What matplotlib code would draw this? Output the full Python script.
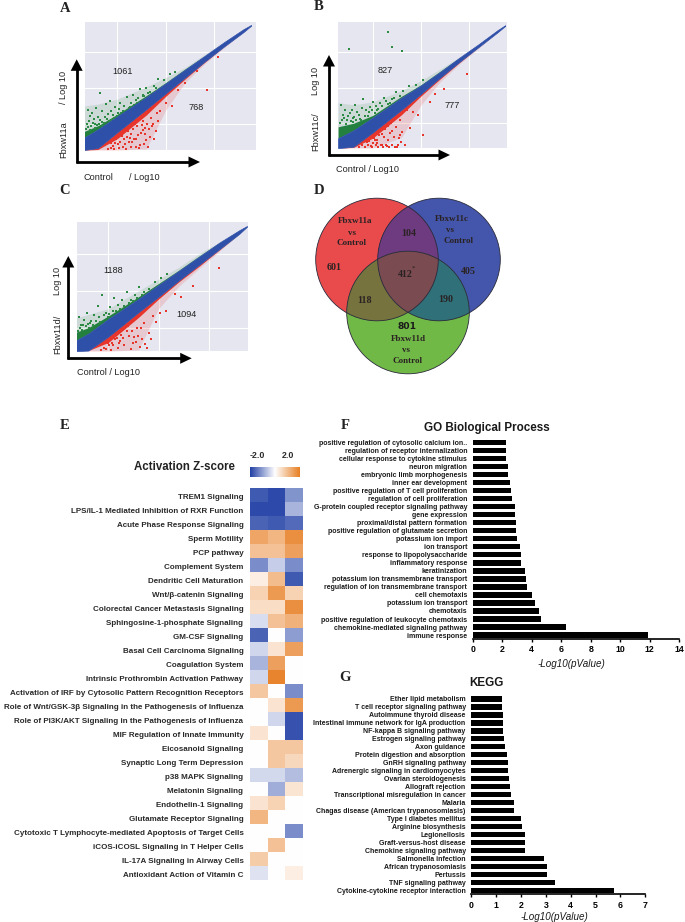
# MULTI PANEL FIGURE: SCATTERS, VENN, HEATMAP AND ENRICHMENT BARS
import numpy as np
import matplotlib
matplotlib.use("Agg")
import matplotlib.pyplot as plt
from matplotlib.colors import LinearSegmentedColormap
from matplotlib.patches import Circle, Polygon

SANS = "Liberation Sans"
SERIF = "Liberation Serif"
W, H = 685, 922

# SCATTER OUTLINES (log10 expression)
edge_x = [1.4, 3, 5, 8, 10, 12, 14, 16, 18, 18.8]

a_up = [3.0, 4.3, 6.1, 8.8, 10.7, 12.6, 14.5, 16.4, 18.2, 18.8]
a_lo = [1.4, 1.7, 3.9, 7.1, 9.3, 11.5, 13.7, 15.8, 17.8, 18.7]
a_green_dense = [3.9, 4.8, 6.4, 9.0, 10.8, 12.7, 14.5, 16.4, 18.2, 18.8]
a_green_sparse = [7.5, 7.8, 8.5, 10.2, 11.5, 12.9, 14.7, 16.4, 18.2, 18.8]
a_red_dense = [1.4, 1.5, 3.0, 6.3, 8.9, 11.3, 13.6, 15.8, 17.8, 18.7]
a_red_sparse = [1.4, 1.4, 1.4, 1.6, 7.0, 10.8, 13.4, 15.6, 17.8, 18.7]

b_up = [2.9, 4.0, 5.8, 8.6, 10.3, 12.2, 14.2, 16.1, 18.1, 18.8]
b_lo = [1.5, 1.7, 3.7, 6.9, 9.1, 11.4, 13.6, 15.7, 17.8, 18.7]
b_green_dense = [4.5, 5.0, 6.1, 8.8, 10.4, 12.3, 14.2, 16.1, 18.1, 18.8]
b_green_sparse = [7.9, 7.6, 8.0, 9.6, 11.0, 12.6, 14.3, 16.1, 18.1, 18.8]
b_red_dense = [1.5, 1.6, 2.9, 6.2, 8.8, 11.2, 13.5, 15.7, 17.8, 18.7]
b_red_sparse = [1.5, 1.5, 1.5, 3.0, 7.5, 10.8, 13.3, 15.5, 17.8, 18.7]

c_up = [3.0, 4.2, 6.2, 8.9, 10.8, 12.7, 14.6, 16.5, 18.2, 18.8]
c_lo = [1.8, 1.9, 3.8, 7.1, 9.2, 11.4, 13.5, 15.6, 17.7, 18.7]
c_green_dense = [4.2, 5.0, 6.6, 9.2, 11.0, 12.8, 14.7, 16.5, 18.2, 18.8]
c_green_sparse = [6.2, 6.8, 7.6, 10.0, 11.6, 13.2, 15.0, 16.6, 18.2, 18.8]
c_red_dense = [1.8, 1.9, 3.0, 6.4, 8.9, 11.2, 13.3, 15.5, 17.7, 18.7]
c_red_sparse = [1.8, 1.8, 1.8, 2.0, 7.6, 10.6, 13.0, 15.3, 17.7, 18.7]

# LOOSE POINTS OUTSIDE THE DENSE PARTS
a_green_x = [2.0, 2.2, 2.1, 2.4, 2.6, 2.8, 3.0, 3.2, 3.4, 3.6, 3.8, 2.3, 2.7, 3.1, 3.5, 4.0, 4.2, 4.5, 4.8, 5.0, 5.3, 5.6, 6.0, 6.3, 6.6, 7.0, 7.3, 7.6, 8.0, 8.4, 8.8, 9.2, 9.8, 10.4, 11.0, 4.4, 4.9, 5.5, 6.1, 6.8, 7.8,
             1.8, 1.9, 2.0, 2.2, 2.5, 2.7, 2.9, 3.2, 3.4, 3.7, 3.9, 4.1, 4.3, 4.6, 4.7, 5.1, 5.2, 5.4, 5.7, 5.9, 6.2, 6.4, 6.7, 6.9, 7.1, 7.4, 7.7, 8.2, 8.6, 9.0]
a_green_y = [7.0, 6.2, 5.4, 6.6, 5.8, 7.2, 6.0, 9.3, 6.9, 5.2, 7.8, 4.8, 4.5, 5.0, 4.8, 6.4, 8.3, 5.6, 7.4, 6.2, 8.0, 6.9, 8.8, 7.4, 9.1, 8.0, 9.9, 9.0, 10.0, 9.5, 10.3, 11.3, 11.2, 12.0, 12.2, 5.6, 5.9, 6.3, 7.0, 7.6, 8.9,
             4.4, 5.0, 4.6, 4.2, 5.2, 5.1, 4.9, 5.6, 5.3, 6.0, 5.7, 5.5, 6.9, 6.3, 5.9, 6.6, 7.1, 6.5, 7.6, 6.9, 7.2, 8.0, 7.7, 8.4, 8.6, 8.2, 8.9, 9.4, 9.2, 10.0]
a_red_x = [4.3, 4.6, 4.9, 5.5, 5.8, 6.1, 6.4, 6.7, 7.0, 7.3, 7.6, 7.9, 8.2, 8.5, 8.8, 9.1, 9.4, 6.5, 6.9, 7.4, 7.8, 8.3, 5.9, 6.3, 6.8, 7.2, 7.7, 8.1, 10.0, 10.6, 11.3, 12.0, 14.3, 15.4, 13.2,
           4.0, 4.4, 4.8, 5.2, 5.3, 5.6, 6.0, 6.2, 6.6, 7.1, 7.5, 8.0, 8.4, 8.7, 9.0, 5.7, 6.4, 6.9, 7.3, 7.9, 8.6, 9.2, 4.7, 5.1]
a_red_y = [2.4, 2.0, 3.0, 3.4, 2.3, 4.1, 1.9, 3.0, 4.7, 2.1, 5.5, 3.6, 1.8, 5.9, 3.0, 6.6, 6.8, 2.6, 1.8, 3.8, 2.2, 4.4, 1.6, 3.1, 5.0, 1.7, 4.2, 5.1, 8.0, 7.6, 9.7, 10.7, 9.8, 14.4, 12.4,
           1.6, 1.7, 2.4, 1.7, 2.6, 1.9, 3.3, 2.5, 4.4, 3.5, 4.9, 2.8, 3.3, 5.1, 4.0, 2.9, 3.7, 2.9, 6.0, 4.5, 4.7, 5.4, 1.6, 2.2]

b_green_x = [1.7, 1.9, 2.1, 2.3, 2.6, 2.9, 3.2, 3.6, 4.0, 4.3, 4.7, 5.0, 5.4, 5.8, 6.2, 6.6, 7.0, 7.4, 7.8, 8.2, 8.8, 9.5, 10.2, 6.6, 2.5, 8.1, 7.0, 2.2, 3.0, 3.8, 4.5, 5.2,
             1.6, 1.8, 2.0, 2.4, 2.7, 3.1, 3.4, 3.7, 3.9, 4.2, 4.6, 4.9, 5.3, 5.6, 6.0, 6.4, 6.8, 7.2, 2.8, 3.3]
b_green_y = [7.6, 6.2, 6.9, 5.4, 6.5, 5.7, 7.6, 6.1, 8.4, 6.8, 7.3, 8.0, 6.9, 7.8, 8.6, 7.7, 8.4, 9.4, 8.9, 9.6, 10.2, 10.4, 11.1, 17.9, 15.4, 15.2, 15.8, 4.9, 5.2, 5.4, 6.0, 6.4,
             5.0, 5.4, 5.8, 6.0, 5.3, 5.9, 6.6, 5.6, 7.1, 6.0, 6.6, 6.9, 7.4, 7.0, 7.5, 8.1, 7.9, 8.6, 6.9, 5.5]
b_red_x = [4.4, 4.8, 5.1, 5.4, 5.7, 6.0, 6.3, 6.6, 6.9, 7.2, 7.5, 7.8, 8.1, 8.4, 8.9, 9.2, 9.7, 10.2, 11.0, 11.5, 12.4, 14.8, 5.5, 6.2, 6.8, 7.4, 7.9, 8.6, 5.0, 6.5,
           3.6, 3.9, 4.2, 4.5, 4.9, 5.3, 5.6, 5.9, 6.1, 6.4, 6.7, 7.0, 7.3, 7.6, 7.7, 7.0, 6.0, 5.2, 4.6, 6.6, 7.1, 7.8]
b_red_y = [2.4, 1.8, 2.9, 2.2, 3.4, 1.9, 4.2, 2.7, 5.0, 3.1, 1.7, 5.4, 3.8, 2.0, 4.4, 6.6, 6.2, 3.3, 8.0, 9.1, 9.8, 11.9, 2.6, 3.0, 3.7, 4.5, 2.4, 6.8, 2.2, 1.8,
           1.7, 1.9, 1.7, 1.9, 1.7, 1.9, 1.7, 1.9, 1.7, 1.9, 1.7, 1.9, 1.7, 1.9, 2.9, 3.9, 3.5, 2.7, 2.5, 4.6, 5.5, 3.3]

c_green_x = [2.1, 2.3, 2.6, 2.9, 3.2, 3.6, 4.0, 4.4, 4.8, 5.2, 5.6, 6.0, 6.4, 6.8, 7.2, 7.6, 8.0, 8.5, 9.0, 9.6, 10.2, 10.8, 3.5, 5.0, 2.4, 3.1, 4.2, 5.5, 6.6,
             2.2, 2.5, 2.8, 3.0, 3.3, 3.8, 4.1, 4.6, 5.1, 5.8, 6.2, 7.0, 7.4, 7.8, 8.3, 2.0]
c_green_y = [6.4, 5.4, 6.0, 7.0, 5.6, 6.7, 7.9, 9.5, 7.0, 7.8, 9.0, 8.1, 8.7, 9.9, 8.8, 9.4, 10.5, 9.9, 10.3, 11.2, 11.7, 12.3, 5.3, 6.4, 4.7, 5.0, 5.8, 7.3, 8.0,
             5.0, 5.3, 5.2, 5.5, 5.9, 5.9, 6.4, 6.7, 6.9, 7.3, 7.6, 8.3, 8.6, 9.0, 9.5, 4.6]
c_red_x = [4.6, 5.0, 5.3, 5.7, 6.0, 6.3, 6.6, 6.9, 7.2, 7.5, 7.8, 8.1, 8.5, 9.0, 9.4, 10.1, 10.7, 11.6, 12.2, 13.4, 16.0, 5.5, 6.2, 7.0, 7.7, 8.3, 9.7, 8.8,
           4.3, 4.8, 5.1, 5.4, 5.9, 6.1, 6.5, 6.8, 7.1, 7.4, 7.9, 8.2, 8.6, 9.2, 6.4, 7.3]
c_red_y = [2.3, 2.9, 2.0, 3.4, 2.2, 4.0, 2.6, 5.2, 2.1, 3.7, 4.9, 2.4, 5.7, 4.3, 6.6, 7.0, 7.3, 9.6, 9.1, 10.6, 13.1, 2.6, 3.2, 3.9, 3.0, 3.4, 5.8, 2.2,
           2.0, 2.1, 2.6, 2.9, 3.6, 2.9, 3.6, 4.5, 5.6, 2.9, 3.9, 5.0, 2.8, 3.5, 4.7, 4.6]

# HEATMAP
pathways = ["TREM1 Signaling", "LPS/IL-1 Mediated Inhibition of RXR Function", "Acute Phase Response Signaling",
            "Sperm Motility", "PCP pathway", "Complement System", "Dendritic Cell Maturation",
            "Wnt/β-catenin Signaling", "Colorectal Cancer Metastasis Signaling", "Sphingosine-1-phosphate Signaling",
            "GM-CSF Signaling", "Basal Cell Carcinoma Signaling", "Coagulation System",
            "Intrinsic Prothrombin Activation Pathway", "Activation of IRF by Cytosolic Pattern Recognition Receptors",
            "Role of Wnt/GSK-3β Signaling in the Pathogenesis of Influenza",
            "Role of PI3K/AKT Signaling in the Pathogenesis of Influenza", "MIF Regulation of Innate Immunity",
            "Eicosanoid Signaling", "Synaptic Long Term Depression", "p38 MAPK Signaling", "Melatonin Signaling",
            "Endothelin-1 Signaling", "Glutamate Receptor Signaling",
            "Cytotoxic T Lymphocyte-mediated Apoptosis of Target Cells", "iCOS-iCOSL Signaling in T Helper Cells",
            "IL-17A Signaling in Airway Cells", "Antioxidant Action of Vitamin C"]
z_col1 = [-2.0, -2.2, -1.9, 1.6, 1.1, -1.4, 0.3, 0.8, 0.6, -0.4, -1.9, -0.5, -0.9, -0.5, 1.0, 0, 0, 0.5, 0, 0, -0.45, 0, 0.5, 1.3, 0, 0, 0.9, -0.35]
z_col2 = [-2.2, -2.2, -2.0, 1.3, 1.1, -0.6, 1.2, 1.8, 0.6, 1.1, 0, 0.5, 1.7, 2.2, 0, 0.5, -0.5, 0, 1.0, 1.0, -0.45, -1.0, 0.8, 0, 0, 1.1, 0, 0]
z_col3 = [-1.3, -0.9, -1.8, 2.0, 1.7, -1.4, -2.0, 0.8, 2.0, 1.4, -1.2, 1.7, 0, 0, -1.4, 1.8, -2.1, -2.1, 1.0, 0.7, -0.8, 0.45, 0, 0, -1.4, 0, 0, 0.3]

# GO BARS
go_terms = ["positive regulation of cytosolic calcium ion..", "regulation of receptor internalization",
            "cellular response to cytokine stimulus", "neuron migration", "embryonic limb morphogenesis",
            "inner ear development", "positive regulation of T cell proliferation", "regulation of cell proliferation",
            "G-protein coupled receptor signaling pathway", "gene expression", "proximal/distal pattern formation",
            "positive regulation of glutamate secretion", "potassium ion import", "ion transport",
            "response to lipopolysaccharide", "inflammatory response", "keratinization",
            "potassium ion transmembrane transport", "regulation of ion transmembrane transport", "cell chemotaxis",
            "potassium ion transport", "chemotaxis", "positive regulation of leukocyte chemotaxis",
            "chemokine-mediated signaling pathway", "immune response"]
go_vals = [2.25, 2.25, 2.25, 2.4, 2.4, 2.55, 2.6, 2.65, 2.85, 2.9, 2.95, 2.95, 3.0, 3.2, 3.25, 3.3, 3.55, 3.6, 3.65, 4.05, 4.2, 4.5, 4.65, 6.35, 11.85]

# KEGG BARS
kegg_terms = ["Ether lipid metabolism", "T cell receptor signaling pathway", "Autoimmune thyroid disease",
              "Intestinal immune network for IgA production", "NF-kappa B signaling pathway", "Estrogen signaling pathway",
              "Axon guidance", "Protein digestion and absorption", "GnRH signaling pathway",
              "Adrenergic signaling in cardiomyocytes", "Ovarian steroidogenesis", "Allograft rejection",
              "Transcriptional misregulation in cancer", "Malaria", "Chagas disease (American trypanosomiasis)",
              "Type I diabetes mellitus", "Arginine biosynthesis", "Legionellosis", "Graft-versus-host disease",
              "Chemokine signaling pathway", "Salmonella infection", "African trypanosomiasis", "Pertussis",
              "TNF signaling pathway", "Cytokine-cytokine receptor interaction"]
kegg_vals = [1.22, 1.22, 1.28, 1.28, 1.28, 1.33, 1.36, 1.45, 1.48, 1.48, 1.5, 1.56, 1.58, 1.73, 1.73, 2.0, 2.05, 2.15, 2.15, 2.17, 2.93, 3.03, 3.05, 3.35, 5.73]

plt.rcParams['font.family'] = SANS
fig = plt.figure(figsize=(W / 100, H / 100), dpi=100)


# AXES FROM A PIXEL BOX
def pxaxes(x0, y0, x1, y1, **kw):
	return fig.add_axes([x0 / W, 1 - y1 / H, (x1 - x0) / W, (y1 - y0) / H], **kw)


# OVERLAY IN PIXELS FOR ANNOTATIONS
ov = fig.add_axes([0, 0, 1, 1], zorder=10)
ov.set_xlim(0, W)
ov.set_ylim(H, 0)
ov.axis('off')
ov.patch.set_alpha(0)


# DEFINING SCATTER FUNCTION
def scatterpanel(box, xlim, ylim, up, lo, gd, gs, rd, rs, gx, gy, rx, ry):
	ax = pxaxes(*box)
	ax.set_facecolor("#E6E6F0")
	ax.set_xlim(*xlim)
	ax.set_ylim(*ylim)
	for s in ax.spines.values():
		s.set_visible(False)
	ax.set_xticks([5, 10, 15])
	ax.set_yticks([5, 10, 15])
	ax.tick_params(length=0, labelbottom=False, labelleft=False)
	ax.grid(color="white", linewidth=0.8)
	ax.set_axisbelow(True)
	ax.fill_between(edge_x, up, gs, color="#2E8B45", alpha=0.14, lw=0, zorder=2)
	ax.fill_between(edge_x, rs, lo, color="#E8352B", alpha=0.16, lw=0, zorder=2)
	ax.fill_between(edge_x, up, gd, color="#23803F", lw=0, zorder=3)
	ax.fill_between(edge_x, rd, lo, color="#E8352B", lw=0, zorder=3)
	ax.scatter(gx, gy, s=0.6, marker='s', color="#2E8B45", lw=0, zorder=4)
	ax.scatter(rx, ry, s=0.6, marker='s', color="#E8352B", lw=0, zorder=4)
	ax.fill_between(edge_x, lo, up, color="#2F50A8", lw=0.5, zorder=5)
	return ax


scatterpanel((85, 21.7, 255.7, 149.7), (1.67, 19.27), (1.47, 19.25), a_up, a_lo, a_green_dense, a_green_sparse,
             a_red_dense, a_red_sparse, a_green_x, a_green_y, a_red_x, a_red_y)
scatterpanel((338.3, 21.7, 506.7, 147.7), (1.42, 18.96), (1.56, 19.3), b_up, b_lo, b_green_dense, b_green_sparse,
             b_red_dense, b_red_sparse, b_green_x, b_green_y, b_red_x, b_red_y)
scatterpanel((77.3, 222.3, 248.3, 350.7), (1.9, 18.93), (1.88, 19.3), c_up, c_lo, c_green_dense, c_green_sparse,
             c_red_dense, c_red_sparse, c_green_x, c_green_y, c_red_x, c_red_y)


# DEFINING L SHAPED ARROWS
def larrows(x, y, top, right):
	ov.plot([x, x], [y + 1.2, top + 10], color="black", lw=2.0, solid_capstyle='butt')
	ov.plot([x - 1, right - 10], [y, y], color="black", lw=2.0, solid_capstyle='butt')
	ov.add_patch(Polygon([(x - 6, top + 11.5), (x + 6, top + 11.5), (x, top)], color="black", lw=0))
	ov.add_patch(Polygon([(right - 11.5, y - 5.5), (right - 11.5, y + 5.5), (right, y)], color="black", lw=0))


larrows(76.7, 162, 59.3, 200)
larrows(329, 155, 55, 450)
larrows(68.3, 358.3, 256, 191.7)

NOTE = dict(fontsize=6.6, color="#222222", ha='center', va='center')
ov.text(123, 71, "1061", **NOTE)
ov.text(196, 107, "768", **NOTE)
ov.text(64, 87, "/ Log 10", rotation=90, **NOTE)
ov.text(64, 140, "Fbxw11a", rotation=90, **NOTE)
ov.text(98, 177, "Control", **NOTE)
ov.text(144, 177, "/ Log10", **NOTE)
ov.text(385, 70.5, "827", **NOTE)
ov.text(452, 106, "777", **NOTE)
ov.text(316, 81, "Log 10", rotation=90, **NOTE)
ov.text(316, 132, "Fbxw11c/", rotation=90, **NOTE)
ov.text(368, 169, "Control / Log10", **NOTE)
ov.text(113, 270.7, "1188", **NOTE)
ov.text(186, 314, "1094", **NOTE)
ov.text(57.5, 281, "Log 10", rotation=90, **NOTE)
ov.text(57.5, 334, "Fbxw11d/", rotation=90, **NOTE)
ov.text(108.7, 372.7, "Control / Log10", **NOTE)

# PANEL LETTERS
for letter, lx, ly in [("A", 65, 8), ("B", 319, 7), ("C", 65, 191), ("D", 319, 191), ("E", 65, 425), ("F", 345, 425), ("G", 345, 677)]:
	ov.text(lx, ly, letter, family=SERIF, weight='bold', fontsize=10.5, ha='center', va='center', color="#222222")

# VENN
red_c = (377, 259.5, 61.3)
blue_c = (439, 259.5, 61.3)
green_c = (408, 312.5, 61.3)


def inside(px, py, c):
	return (px - c[0]) ** 2 + (py - c[1]) ** 2 <= c[2] ** 2 + 0.01


# POLYGON OF THE OVERLAP OF CONVEX CIRCLES
def overlap(circles):
	t = np.linspace(0, 2 * np.pi, 720)
	pts = []
	for c in circles:
		px = c[0] + c[2] * np.cos(t)
		py = c[1] + c[2] * np.sin(t)
		keep = np.all([inside(px, py, o) for o in circles], axis=0)
		pts.append(np.column_stack([px[keep], py[keep]]))
	pts = np.vstack(pts)
	mid = pts.mean(axis=0)
	order = np.argsort(np.arctan2(pts[:, 1] - mid[1], pts[:, 0] - mid[0]))
	return pts[order]


for c, col in [(red_c, "#E94B4D"), (blue_c, "#4456AB"), (green_c, "#71B947")]:
	ov.add_patch(Circle(c[:2], c[2], color=col, lw=0))
ov.add_patch(Polygon(overlap([red_c, blue_c]), color="#6E3A80", lw=0))
ov.add_patch(Polygon(overlap([red_c, green_c]), color="#77733F", lw=0))
ov.add_patch(Polygon(overlap([blue_c, green_c]), color="#2F7079", lw=0))
ov.add_patch(Polygon(overlap([red_c, blue_c, green_c]), color="#7A4B50", lw=0))
for c in (red_c, blue_c, green_c):
	ov.add_patch(Circle(c[:2], c[2], fill=False, ec="#2A2A3A", lw=0.6))

VENN = dict(family=SERIF, weight='bold', fontsize=6.5, color="#2A2222", ha='center', va='center')
for txt, vx, vy in [("Fbxw11a", 355, 221), ("vs", 352, 233), ("Control", 352, 243),
                    ("Fbxw11c", 452, 219), ("vs", 450, 230), ("Control", 459, 241),
                    ("Fbxw11d", 408, 339), ("vs", 406, 350), ("Control", 408, 361)]:
	ov.text(vx, vy, txt, **VENN)
for txt, vx, vy in [("601", 334, 267), ("405", 468, 271), ("104", 409, 233), ("412", 405, 274),
                    ("118", 365, 300), ("190", 446, 299)]:
	ov.text(vx, vy, txt, family=SERIF, weight='bold', fontsize=7.2, color="#2A2222", ha='center', va='center')
ov.text(413.5, 268, "*", family=SERIF, fontsize=5, color="#2A2222", ha='center', va='center')
ov.text(407, 326, "801", family="DejaVu Sans", weight='bold', fontsize=6.6, color="#1A1A1A", ha='center', va='center')

# HEATMAP PANEL
zcmap = LinearSegmentedColormap.from_list("z", ["#2442A6", "#FFFFFF", "#E77F24"])
hm = pxaxes(250, 488, 303, 880)
z = np.array([z_col1, z_col2, z_col3]).T
hm.pcolormesh(z, cmap=zcmap, vmin=-2.3, vmax=2.3)
hm.set_ylim(len(pathways), 0)
hm.axis('off')
for i, name in enumerate(pathways):
	hm.text(-0.37, i + 0.68, name, weight='bold', fontsize=5.8, color="#2A2A2A", ha='right', va='center')

cb = pxaxes(250, 467, 300, 477)
cb.imshow(np.linspace(-2.3, 2.3, 100).reshape(1, -1), cmap=zcmap, aspect='auto', vmin=-2.3, vmax=2.3)
cb.axis('off')
ov.text(257, 455, "-2.0", weight='bold', fontsize=6.4, color="#2A2A2A", ha='center', va='center')
ov.text(288, 455, "2.0", weight='bold', fontsize=6.4, color="#2A2A2A", ha='center', va='center')
ov.text(184, 466.5, "Activation Z-score", weight='bold', fontsize=8.3, color="#222222", ha='center', va='center')


# DEFINING BAR FUNCTION
def barpanel(box, terms, vals, xmax, xticks, size):
	ax = pxaxes(*box)
	y = np.arange(len(terms))
	ax.barh(y, vals, height=0.68, color="black")
	ax.set_xlim(0, xmax)
	ax.set_ylim(len(terms) - 0.55, -0.6)
	ax.set_yticks(y)
	ax.set_yticklabels(terms, weight='bold', fontsize=size, color="#1A1A1A")
	ax.set_xticks(xticks)
	ax.tick_params(axis='y', length=0, pad=4)
	ax.tick_params(axis='x', length=2, width=1, labelsize=6.3, pad=2.5)
	for lab in ax.get_xticklabels():
		lab.set_fontweight('bold')
	for s in ("top", "left", "right"):
		ax.spines[s].set_visible(False)
	ax.spines["bottom"].set_linewidth(1.2)
	return ax


barpanel((472.7, 437.5, 679.3, 638.7), go_terms, go_vals, 14, range(0, 15, 2), 5.0)
ov.text(487, 428, "GO Biological Process", weight='bold', fontsize=8.4, color="#1A1A1A", ha='center', va='center')
ov.text(571, 664, "-Log10(pValue)", style='italic', fontsize=7.1, color="#1A1A1A", ha='center', va='center')

barpanel((471.3, 694, 645.3, 894.3), kegg_terms, kegg_vals, 7, range(0, 8), 5.0)
ov.text(486.7, 683, "KEGG", weight='bold', fontsize=8.4, color="#1A1A1A", ha='center', va='center')
ov.text(554, 916.5, "-Log10(pValue)", style='italic', fontsize=7.1, color="#1A1A1A", ha='center', va='center')

fig.savefig("out.png", dpi=100)
